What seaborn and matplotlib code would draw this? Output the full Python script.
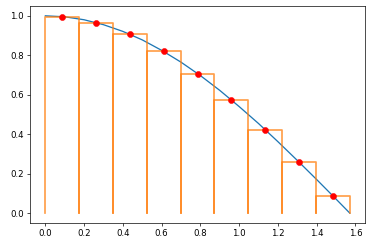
import matplotlib
matplotlib.use("Agg")
import matplotlib.pyplot as plt
import seaborn as sns
import pandas as pd

# curve
curve_x = [0.0, 0.1, 0.2, 0.3, 0.4, 0.5, 0.6, 0.7, 0.8, 0.9, 1.0, 1.1, 1.2, 1.3, 1.4, 1.5, 1.5708]
curve_y = [1.0, 0.995, 0.980, 0.955, 0.921, 0.878, 0.825, 0.765, 0.697, 0.622, 0.540, 0.454, 0.362, 0.267, 0.170, 0.071, 0.0]

# rectangles: left edges, widths, heights
rect_left = [0.0, 0.1745, 0.3491, 0.5236, 0.6981, 0.8727, 1.0472, 1.2217, 1.3963]
rect_width = [0.1745] * 9
rect_height = [0.9962, 0.9659, 0.9063, 0.8192, 0.7071, 0.5736, 0.4226, 0.2588, 0.0872]

# midpoints
mid_x = [0.0873, 0.2618, 0.4363, 0.6109, 0.7854, 0.9599, 1.1345, 1.3090, 1.4835]
mid_y = rect_height

fig = plt.figure(figsize=(6, 4), dpi=62)
ax = fig.add_axes([0.081, 0.101, 0.9, 0.875])

sns.lineplot(x=curve_x, y=curve_y, ax=ax, color="C0", linewidth=1.5)
for l, w, h in zip(rect_left, rect_width, rect_height):
    ax.plot([l, l, l + w, l + w], [0, h, h, 0], color="C1", alpha=0.75, linewidth=2)
sns.scatterplot(x=mid_x, y=mid_y, ax=ax, color="red", edgecolor="red", s=50, zorder=3)

ax.set_xticks([0.0, 0.2, 0.4, 0.6, 0.8, 1.0, 1.2, 1.4, 1.6])
ax.set_yticks([0.0, 0.2, 0.4, 0.6, 0.8, 1.0])
ax.set_xlim(-0.0785, 1.649)
ax.set_ylim(-0.05, 1.05)

fig.savefig("out.png", dpi=62)
